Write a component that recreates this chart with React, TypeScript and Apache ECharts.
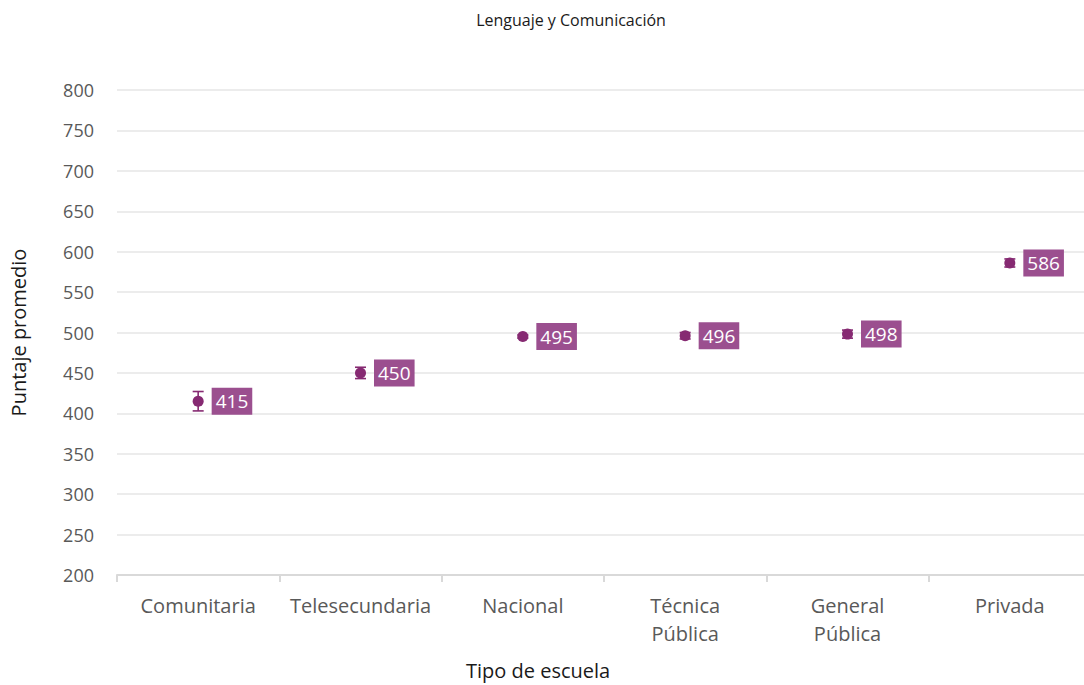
import React, { useEffect, useRef } from "react";
import * as echarts from "echarts";

const categories = ["Comunitaria", "Telesecundaria", "Nacional", "Técnica\nPública", "General\nPública", "Privada"];
const means = [415, 450, 495, 496, 498, 586];
const lows = [403, 443, 493, 492, 493, 581];
const highs = [427, 457, 497, 500, 503, 591];
const yTicks = { min: 200, max: 800, interval: 50 };

const FONT = "'Open Sans', 'Noto Sans', sans-serif";
const MARK = "#862a72";
const LABEL_BG = "#9b4f8f";

export default function App() {
  const ref = useRef<HTMLDivElement>(null);
  useEffect(() => {
    if (!ref.current) return;
    const chart = echarts.init(ref.current, undefined, { renderer: "svg" });
    const errData = categories.map((_, i) => [i, lows[i], highs[i]]);
    chart.setOption({
      animation: false,
      backgroundColor: "#ffffff",
      textStyle: { fontFamily: FONT },
      title: {
        text: "Lenguaje y Comunicación",
        left: 566,
        top: 7,
        textAlign: "center",
        textStyle: { fontFamily: FONT, fontSize: 16, fontWeight: "normal", color: "#1a1a1a" },
      },
      grid: {
        left: 117,
        right: -7,
        top: 90,
        bottom: 110,
        containLabel: false,
        outerBoundsMode: "none",
      },
      xAxis: {
        type: "category",
        data: categories,
        axisLine: { lineStyle: { color: "#d9d9d9", width: 2 } },
        axisTick: { show: true, length: 7, lineStyle: { color: "#d9d9d9", width: 2 } },
        axisLabel: { color: "#595959", fontSize: 20, margin: 16, lineHeight: 28, fontFamily: FONT, interval: 0 },
        splitLine: { show: false },
      },
      yAxis: {
        type: "value",
        min: yTicks.min,
        max: yTicks.max,
        interval: yTicks.interval,
        name: "Puntaje promedio",
        nameLocation: "middle",
        nameGap: 89,
        nameTextStyle: { color: "#1a1a1a", fontSize: 20, fontFamily: FONT },
        axisLine: { show: false },
        axisTick: { show: false },
        axisLabel: { color: "#595959", fontSize: 18, margin: 23, fontFamily: FONT },
        splitLine: { lineStyle: { color: "#ececec", width: 2 } },
      },
      graphic: [
        {
          type: "text",
          left: 466,
          top: 660,
          style: { text: "Tipo de escuela", fontSize: 20, fontFamily: FONT, fill: "#1a1a1a" },
        },
      ],
      series: [
        {
          type: "custom",
          data: errData,
          encode: { x: 0, y: [1, 2] },
          z: 3,
          renderItem: (params: any, api: any) => {
            const x = api.value(0);
            const lo = api.coord([x, api.value(1)]);
            const hi = api.coord([x, api.value(2)]);
            const hw = 5.5;
            const style = { stroke: MARK, lineWidth: 1.6, fill: "none" };
            return {
              type: "group",
              children: [
                { type: "line", shape: { x1: lo[0], y1: lo[1], x2: hi[0], y2: hi[1] }, style },
                { type: "line", shape: { x1: lo[0] - hw, y1: lo[1], x2: lo[0] + hw, y2: lo[1] }, style },
                { type: "line", shape: { x1: hi[0] - hw, y1: hi[1], x2: hi[0] + hw, y2: hi[1] }, style },
              ],
            };
          },
        },
        {
          type: "scatter",
          data: means,
          symbol: "circle",
          symbolSize: 11,
          z: 4,
          itemStyle: { color: MARK, opacity: 1 },
          label: {
            show: true,
            position: "right",
            distance: 8,
            formatter: "{c}",
            color: "#ffffff",
            fontSize: 19,
            fontFamily: FONT,
            backgroundColor: LABEL_BG,
            padding: [2, 4, 1, 4],
            lineHeight: 24,
            opacity: 1,
          },
        },
      ],
    });
    return () => chart.dispose();
  }, []);
  return (
    <div
      ref={ref}
      style={{ position: "fixed", left: 0, top: 0, width: 1084, height: 685, background: "#fff" }}
    />
  );
}
